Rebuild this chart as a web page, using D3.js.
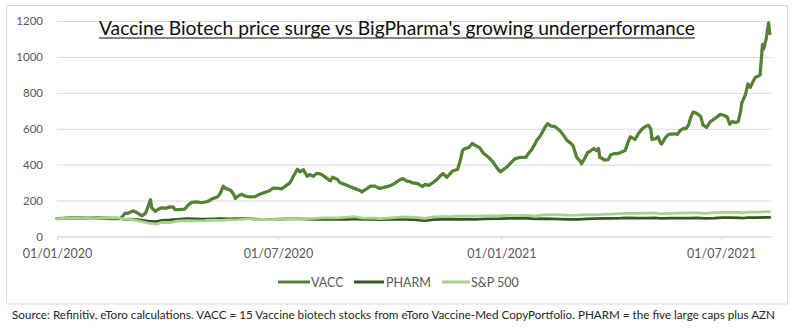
<!DOCTYPE html>
<html>
<head>
<meta charset="utf-8">
<script src="https://cdn.jsdelivr.net/npm/d3@7"></script>
<style>
  html, body { margin: 0; padding: 0; background: #fff; }
  svg { display: block; font-family: Lato, "Open Sans", sans-serif; }
</style>
</head>
<body>
<svg id="chart" width="800" height="335"></svg>
<script>
// VACC: 15 vaccine biotech stocks, rebased to 100
const vaccDates = [
  "2020-01-01","2020-01-12","2020-01-24","2020-02-05","2020-02-14","2020-02-22","2020-02-24","2020-02-26","2020-02-28","2020-03-04",
  "2020-03-07","2020-03-11","2020-03-14","2020-03-18","2020-03-19","2020-03-22","2020-03-24","2020-03-27","2020-03-31","2020-04-03",
  "2020-04-06","2020-04-07","2020-04-11","2020-04-15","2020-04-18","2020-04-21","2020-04-25","2020-04-29","2020-05-04","2020-05-08",
  "2020-05-12","2020-05-14","2020-05-17","2020-05-19","2020-05-23","2020-05-25","2020-05-27","2020-05-29","2020-06-01","2020-06-04",
  "2020-06-08","2020-06-12","2020-06-16","2020-06-20","2020-06-24","2020-06-27","2020-07-01","2020-07-04","2020-07-08","2020-07-11",
  "2020-07-14","2020-07-17","2020-07-19","2020-07-22","2020-07-25","2020-07-27","2020-07-30","2020-08-02","2020-08-05","2020-08-07",
  "2020-08-10","2020-08-13","2020-08-15","2020-08-19","2020-08-21","2020-08-25","2020-08-29","2020-09-02","2020-09-07","2020-09-08",
  "2020-09-12","2020-09-15","2020-09-19","2020-09-21","2020-09-23","2020-09-27","2020-10-01","2020-10-05","2020-10-08","2020-10-10",
  "2020-10-12","2020-10-15","2020-10-18","2020-10-20","2020-10-24","2020-10-28","2020-10-30","2020-11-02","2020-11-06","2020-11-09",
  "2020-11-12","2020-11-14","2020-11-17","2020-11-20","2020-11-22","2020-11-26","2020-11-28","2020-11-30","2020-12-02","2020-12-05",
  "2020-12-08","2020-12-11","2020-12-14","2020-12-17","2020-12-21","2020-12-25","2020-12-28","2020-12-31","2021-01-03","2021-01-06",
  "2021-01-08","2021-01-12","2021-01-16","2021-01-21","2021-01-23","2021-01-26","2021-01-29","2021-01-30","2021-02-02","2021-02-06",
  "2021-02-08","2021-02-11","2021-02-14","2021-02-18","2021-02-21","2021-02-24","2021-02-27","2021-03-01","2021-03-04","2021-03-07",
  "2021-03-08","2021-03-11","2021-03-13","2021-03-15","2021-03-18","2021-03-20","2021-03-22","2021-03-23","2021-03-25","2021-03-27",
  "2021-03-30","2021-04-01","2021-04-04","2021-04-07","2021-04-10","2021-04-13","2021-04-15","2021-04-17","2021-04-20","2021-04-21",
  "2021-04-24","2021-04-27","2021-04-29","2021-05-02","2021-05-04","2021-05-05","2021-05-08","2021-05-10","2021-05-12","2021-05-13",
  "2021-05-16","2021-05-18","2021-05-20","2021-05-24","2021-05-26","2021-05-28","2021-05-31","2021-06-02","2021-06-04","2021-06-06",
  "2021-06-08","2021-06-10","2021-06-14","2021-06-16","2021-06-19","2021-06-22","2021-06-24","2021-06-28","2021-06-30","2021-07-03",
  "2021-07-06","2021-07-08","2021-07-10","2021-07-13","2021-07-15","2021-07-17","2021-07-18","2021-07-21","2021-07-23","2021-07-25",
  "2021-07-27","2021-07-29","2021-08-01","2021-08-02","2021-08-04","2021-08-05","2021-08-07","2021-08-09","2021-08-10"
];
const vaccValues = [
  100,103,101,104,100,100,112,130,128,143,
  132,115,130,205,160,140,150,160,158,165,
  163,150,150,152,175,190,193,188,195,210,
  220,235,280,268,258,240,212,225,235,225,
  220,222,235,245,255,270,268,265,285,300,
  340,375,360,372,335,345,335,352,348,340,
  325,310,330,318,300,290,278,268,255,248,
  265,280,280,272,268,275,282,295,310,318,
  322,308,305,298,295,278,290,285,302,318,
  340,350,330,352,365,375,420,480,490,495,
  518,505,495,465,443,415,385,360,375,390,
  405,432,440,440,460,485,520,535,560,610,
  628,615,612,590,565,535,520,505,440,420,
  405,440,468,475,490,478,490,440,435,425,
  428,455,462,462,470,480,520,555,545,540,
  575,600,610,620,600,540,545,555,520,515,
  550,565,570,572,568,590,602,600,620,665,
  694,688,670,620,608,640,648,668,680,675,
  665,625,640,635,640,700,745,790,850,830,
  860,885,895,900,1070,1045,1100,1190,1130
];

// PHARM (five large caps plus AZN) and S&P 500, rebased to 100
const benchDates = [
  "2020-01-01","2020-01-10","2020-01-20","2020-01-31","2020-02-10","2020-02-19","2020-02-25","2020-03-02","2020-03-09","2020-03-16",
  "2020-03-23","2020-03-27","2020-04-03","2020-04-09","2020-04-17","2020-04-24","2020-05-01","2020-05-08","2020-05-15","2020-05-22",
  "2020-05-29","2020-06-08","2020-06-11","2020-06-19","2020-06-26","2020-07-03","2020-07-10","2020-07-17","2020-07-24","2020-07-31",
  "2020-08-07","2020-08-14","2020-08-21","2020-08-28","2020-09-02","2020-09-08","2020-09-18","2020-09-23","2020-10-02","2020-10-12",
  "2020-10-23","2020-10-30","2020-11-06","2020-11-13","2020-11-20","2020-11-27","2020-12-04","2020-12-11","2020-12-18","2020-12-31",
  "2021-01-08","2021-01-15","2021-01-22","2021-01-29","2021-02-05","2021-02-12","2021-02-19","2021-02-26","2021-03-05","2021-03-12",
  "2021-03-19","2021-03-26","2021-04-01","2021-04-09","2021-04-16","2021-04-23","2021-04-30","2021-05-07","2021-05-12","2021-05-21",
  "2021-05-28","2021-06-04","2021-06-11","2021-06-18","2021-06-25","2021-07-02","2021-07-09","2021-07-16","2021-07-19","2021-07-23",
  "2021-07-30","2021-08-06","2021-08-10"
];
const pharmValues = [
  100,102,104,101,103,102,96,97,92,86,
  83,90,92,96,99,98,97,98,100,98,
  99,101,97,96,95,97,98,99,97,96,
  95,96,97,96,98,95,95,94,95,97,
  93,88,94,96,95,96,97,96,98,99,
  101,102,101,98,99,98,97,95,96,98,
  99,101,101,102,104,103,103,104,101,103,
  103,102,104,101,102,105,105,104,103,105,
  105,106,106
];
const spxValues = [
  100,101,103,100,104,105,97,95,86,75,
  69,78,77,86,88,87,88,91,90,92,
  94,100,94,96,94,97,98,100,100,101,
  104,104,105,108,111,103,102,99,104,109,
  107,101,109,111,110,113,114,113,115,116,
  118,116,118,114,121,122,121,118,119,122,
  121,123,124,127,129,129,130,131,126,129,
  130,131,132,129,133,134,135,134,132,136,
  136,138,139
];

const yTicks = [0, 200, 400, 600, 800, 1000, 1200];
const xTickDates = ["2020-01-01", "2020-07-01", "2021-01-01", "2021-07-01"];
const seriesNames = ["VACC", "PHARM", "S&P 500"];
const seriesColors = ["#548235", "#375623", "#A9D18E"];

const titleText = "Vaccine Biotech price surge vs BigPharma's growing underperformance";
const sourceText = "Source: Refinitiv, eToro calculations. VACC = 15 Vaccine biotech stocks from eToro Vaccine-Med CopyPortfolio. PHARM = the five large caps plus AZN";

const parse = d3.utcParse("%Y-%m-%d");
const fmt = d3.utcFormat("%d/%m/%Y");

const svg = d3.select("#chart");

// chart frame
svg.append("rect")
  .attr("x", 6.5).attr("y", 5.5)
  .attr("width", 781).attr("height", 298.5)
  .attr("fill", "#fff").attr("stroke", "#D9D9D9").attr("stroke-width", 1);

const x = d3.scaleUtc()
  .domain([parse("2020-01-01"), parse("2021-08-11")])
  .range([57, 771]);
const y = d3.scaleLinear().domain([0, 1200]).range([236.5, 21]);

// gridlines + y labels
const yAxis = d3.axisLeft(y)
  .tickValues(yTicks)
  .tickFormat(d3.format("d"))
  .tickSize(-(771 - 57))
  .tickPadding(14);
const gy = svg.append("g").attr("transform", "translate(57,0)").call(yAxis);
gy.select(".domain").remove();
gy.selectAll(".tick line").attr("stroke", "#D9D9D9").attr("stroke-width", 1);
gy.selectAll(".tick text")
  .attr("fill", "#595959").attr("font-size", 11.5).attr("font-family", "Lato, sans-serif");

// x axis
const xAxis = d3.axisBottom(x)
  .tickValues(xTickDates.map(parse))
  .tickFormat(fmt).tickSize(4).tickSizeOuter(0).tickPadding(9);
const gx = svg.append("g").attr("transform", `translate(0,${y(0)})`).call(xAxis);
gx.select(".domain").attr("stroke", "#D9D9D9");
gx.selectAll(".tick line").attr("stroke", "#D9D9D9");
gx.selectAll(".tick text")
  .attr("fill", "#595959").attr("font-size", 12.5).attr("font-family", "Lato, sans-serif");

// series lines
const line = d3.line()
  .x(d => x(d.date))
  .y(d => y(d.value));

const series = [
  { name: seriesNames[0], color: seriesColors[0], width: 3.25,
    data: vaccDates.map((d, i) => ({ date: parse(d), value: vaccValues[i] })) },
  { name: seriesNames[1], color: seriesColors[1], width: 2.75,
    data: benchDates.map((d, i) => ({ date: parse(d), value: pharmValues[i] })) },
  { name: seriesNames[2], color: seriesColors[2], width: 2.75,
    data: benchDates.map((d, i) => ({ date: parse(d), value: spxValues[i] })) }
];

svg.append("g").selectAll("path")
  .data(series)
  .join("path")
  .attr("d", s => line(s.data))
  .attr("fill", "none")
  .attr("stroke", s => s.color)
  .attr("stroke-width", s => s.width)
  .attr("stroke-linejoin", "round")
  .attr("stroke-linecap", "round");

// title with underline
svg.append("text")
  .attr("x", 99).attr("y", 35)
  .attr("font-size", 19)
  .attr("font-family", "Lato, sans-serif")
  .attr("fill", "#0d0d0d")
  .attr("textLength", 596)
  .attr("lengthAdjust", "spacingAndGlyphs")
  .text(titleText);
svg.append("line")
  .attr("x1", 99).attr("x2", 695)
  .attr("y1", 38).attr("y2", 38)
  .attr("stroke", "#0d0d0d").attr("stroke-width", 1);

// legend
const legendItems = [
  { x1: 278, x2: 310, tx: 311 },
  { x1: 354, x2: 384, tx: 386 },
  { x1: 442, x2: 470, tx: 471 }
];
const lg = svg.append("g");
legendItems.forEach((p, i) => {
  lg.append("line")
    .attr("x1", p.x1).attr("x2", p.x2).attr("y1", 282).attr("y2", 282)
    .attr("stroke", seriesColors[i]).attr("stroke-width", 3);
  lg.append("text")
    .attr("x", p.tx).attr("y", 286.5)
    .attr("font-size", 12.5).attr("fill", "#595959")
    .attr("font-family", "Lato, sans-serif")
    .text(seriesNames[i]);
});

// source note
svg.append("text")
  .attr("x", 12).attr("y", 319)
  .attr("font-size", 11.5).attr("fill", "#262626")
  .attr("font-family", "Lato, sans-serif")
  .attr("textLength", 763)
  .attr("lengthAdjust", "spacingAndGlyphs")
  .text(sourceText);
</script>
</body>
</html>
